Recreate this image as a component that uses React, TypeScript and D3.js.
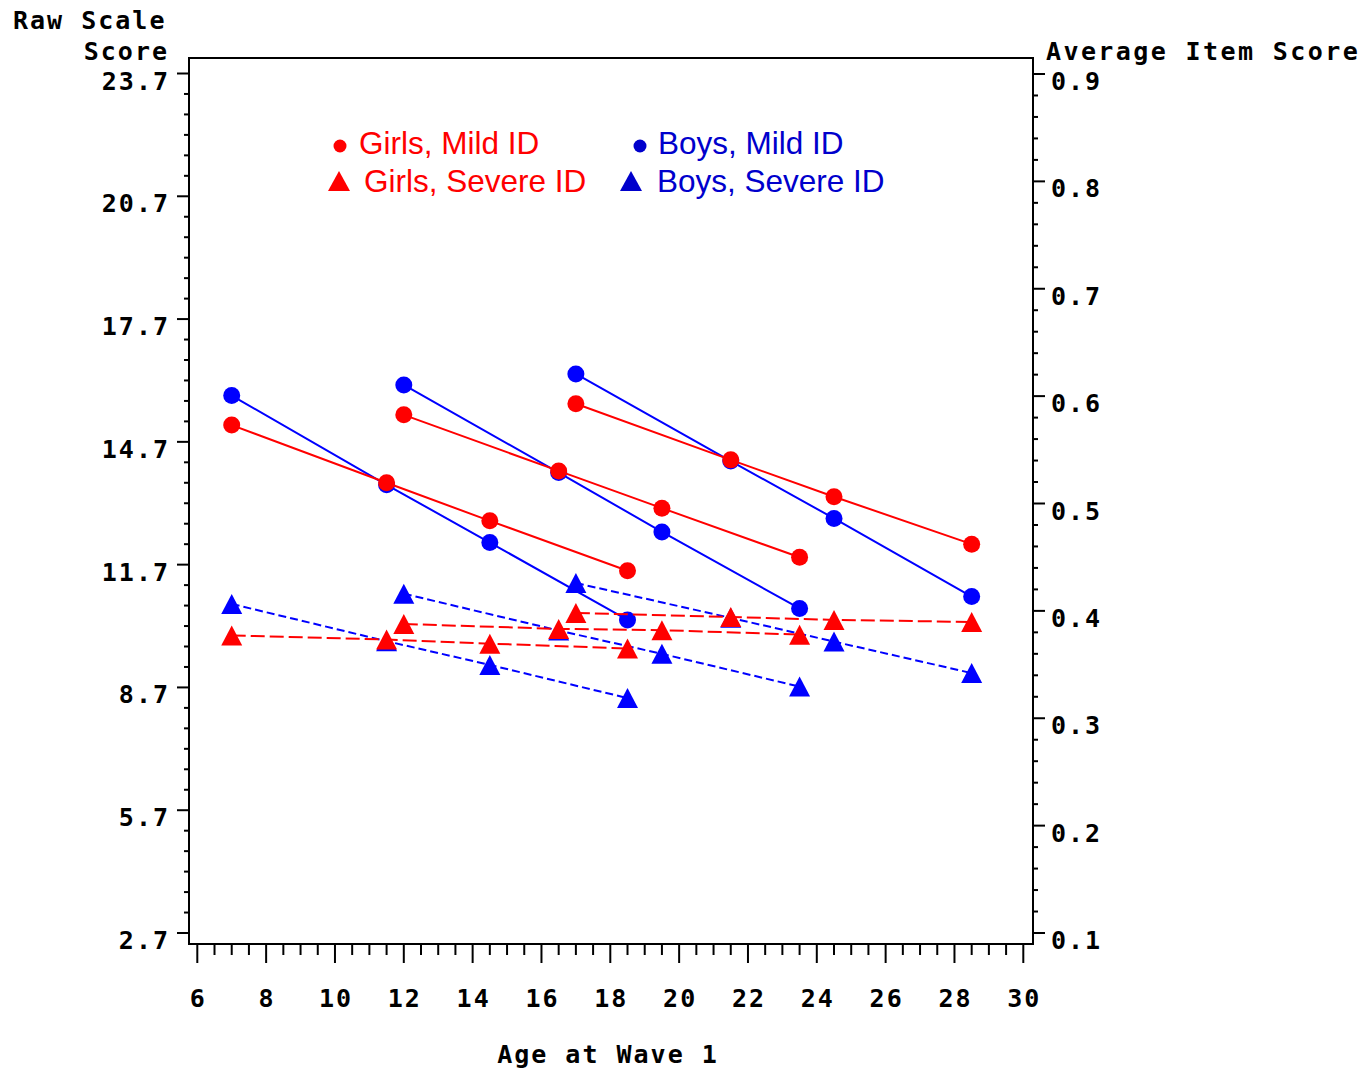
import React from 'react';
import * as d3 from 'd3';

// Age at wave 1..4 for the three cohorts
const cohortAges: number[][] = [
  [7, 11.5, 14.5, 18.5],
  [12, 16.5, 19.5, 23.5],
  [17, 21.5, 24.5, 28.5],
];

// Raw scale scores, one row per cohort
const girlsMild: number[][] = [
  [15.11, 13.70, 12.77, 11.55],
  [15.36, 13.99, 13.08, 11.88],
  [15.63, 14.26, 13.36, 12.20],
];
const boysMild: number[][] = [
  [15.83, 13.65, 12.24, 10.35],
  [16.09, 13.95, 12.50, 10.63],
  [16.36, 14.23, 12.83, 10.92],
];
const girlsSevere: number[][] = [
  [9.97, 9.87, 9.77, 9.65],
  [10.25, 10.13, 10.10, 9.99],
  [10.52, 10.42, 10.35, 10.30],
];
const boysSevere: number[][] = [
  [10.74, 9.83, 9.25, 8.44],
  [10.99, 10.09, 9.52, 8.72],
  [11.25, 10.40, 9.82, 9.05],
];

const xTickValues = [6, 8, 10, 12, 14, 16, 18, 20, 22, 24, 26, 28, 30];
const leftTickValues = [2.7, 5.7, 8.7, 11.7, 14.7, 17.7, 20.7, 23.7];
const rightTickValues = [0.1, 0.2, 0.3, 0.4, 0.5, 0.6, 0.7, 0.8, 0.9];

const legendLabels = ['Girls, Mild ID', 'Girls, Severe ID', 'Boys, Mild ID', 'Boys, Severe ID'];

const RED = '#ff0000';
const BLUE = '#0000ff';
const LEG_BLUE = '#0000cc';

const FRAME = { left: 189, top: 58, right: 1033, bottom: 944 };

const x = d3.scaleLinear().domain([6, 30]).range([197.3, 1023.3]);
const yL = d3.scaleLinear().domain([2.7, 23.7]).range([933, 73.5]);
const yR = d3.scaleLinear().domain([0.1, 0.9]).range([933, 74]);

const monoStyle: React.CSSProperties = {
  fontFamily: '"DejaVu Sans Mono", monospace',
  fontWeight: 'bold',
  fontSize: 25,
  letterSpacing: 2,
};
const legendFont: React.CSSProperties = {
  fontFamily: '"Liberation Sans", Arial, sans-serif',
  fontSize: 31.5,
};

const triPath = (w: number, h: number) => `M0,${-h / 2}L${w / 2},${h / 2}L${-w / 2},${h / 2}Z`;

const series = [
  { data: boysSevere, color: BLUE, marker: 'tri', dash: '8,4' },
  { data: boysMild, color: BLUE, marker: 'circle', dash: null },
  { data: girlsSevere, color: RED, marker: 'tri', dash: '14,5' },
  { data: girlsMild, color: RED, marker: 'circle', dash: null },
];

export default function App() {
  const line = d3
    .line<[number, number]>()
    .x((d) => x(d[0]))
    .y((d) => yL(d[1]));

  const xMinor = d3.range(6, 30.001, 0.5).filter((v) => Math.abs(v % 2) > 0.01);
  const leftMinor = d3.range(0, 43).map((i) => 2.7 + i * 0.5).filter((_, i) => i % 6 !== 0);
  const rightMinor = d3.range(0, 41).map((i) => 0.1 + i * 0.02).filter((_, i) => i % 5 !== 0);

  return (
    <svg
      width={1364}
      height={1070}
      style={{ position: 'absolute', left: 0, top: 0, background: '#fff' }}
    >
      <rect x={0} y={0} width={1364} height={1070} fill="#fff" />
      {/* axis titles */}
      <text x={13} y={28.5} style={monoStyle}>Raw Scale</text>
      <text x={167 + 2} y={59.5} textAnchor="end" style={monoStyle}>Score</text>
      <text x={1046} y={59.5} style={{ ...monoStyle, letterSpacing: 2.4 }}>Average Item Score</text>
      <text x={608} y={1063} textAnchor="middle" style={monoStyle}>Age at Wave 1</text>

      {/* frame */}
      <rect
        x={FRAME.left}
        y={FRAME.top}
        width={FRAME.right - FRAME.left}
        height={FRAME.bottom - FRAME.top}
        fill="none"
        stroke="#000"
        strokeWidth={2}
      />

      {/* x ticks */}
      {xTickValues.map((v) => (
        <g key={'xt' + v}>
          <line x1={x(v)} x2={x(v)} y1={FRAME.bottom} y2={963} stroke="#000" strokeWidth={2} />
          <text x={x(v) + 1} y={1007} textAnchor="middle" style={monoStyle}>
            {String(v)}
          </text>
        </g>
      ))}
      {xMinor.map((v) => (
        <line key={'xm' + v} x1={x(v)} x2={x(v)} y1={FRAME.bottom} y2={955} stroke="#000" strokeWidth={2} />
      ))}

      {/* left ticks */}
      {leftTickValues.map((v) => (
        <g key={'lt' + v}>
          <line x1={177} x2={FRAME.left} y1={yL(v)} y2={yL(v)} stroke="#000" strokeWidth={2} />
          <text x={170} y={yL(v) + 16} textAnchor="end" style={monoStyle}>
            {v.toFixed(1)}
          </text>
        </g>
      ))}
      {leftMinor.map((v) => (
        <line key={'lm' + v} x1={184} x2={FRAME.left} y1={yL(v)} y2={yL(v)} stroke="#000" strokeWidth={2} />
      ))}

      {/* right ticks */}
      {rightTickValues.map((v) => (
        <g key={'rt' + v}>
          <line x1={FRAME.right} x2={1045} y1={yR(v)} y2={yR(v)} stroke="#000" strokeWidth={2} />
          <text x={1051} y={yR(v) + 16} style={monoStyle}>
            {v.toFixed(1)}
          </text>
        </g>
      ))}
      {rightMinor.map((v) => (
        <line key={'rm' + v} x1={FRAME.right} x2={1038} y1={yR(v)} y2={yR(v)} stroke="#000" strokeWidth={2} />
      ))}

      {/* legend */}
      <circle cx={340} cy={146} r={6.5} fill={RED} />
      <text x={359} y={154} fill={RED} style={legendFont}>{legendLabels[0]}</text>
      <path d={triPath(22, 20)} transform="translate(339,181)" fill={RED} />
      <text x={364} y={192} fill={RED} style={legendFont}>{legendLabels[1]}</text>
      <circle cx={640} cy={146} r={6.5} fill={LEG_BLUE} />
      <text x={658} y={154} fill={LEG_BLUE} style={legendFont}>{legendLabels[2]}</text>
      <path d={triPath(22, 20)} transform="translate(631,181)" fill={LEG_BLUE} />
      <text x={657} y={192} fill={LEG_BLUE} style={legendFont}>{legendLabels[3]}</text>

      {/* data */}
      {series.map((s, si) => (
        <g key={'s' + si}>
          {s.data.map((row, ci) => {
            const pts: [number, number][] = row.map((v, i) => [cohortAges[ci][i], v]);
            return (
              <g key={'c' + ci}>
                <path
                  d={line(pts) || ''}
                  fill="none"
                  stroke={s.color}
                  strokeWidth={2}
                  strokeDasharray={s.dash || undefined}
                />
                {pts.map((p, pi) =>
                  s.marker === 'circle' ? (
                    <circle key={pi} cx={x(p[0])} cy={yL(p[1])} r={8.5} fill={s.color} />
                  ) : (
                    <path
                      key={pi}
                      d={triPath(21, 20)}
                      transform={`translate(${x(p[0])},${yL(p[1])})`}
                      fill={s.color}
                    />
                  )
                )}
              </g>
            );
          })}
        </g>
      ))}
    </svg>
  );
}
